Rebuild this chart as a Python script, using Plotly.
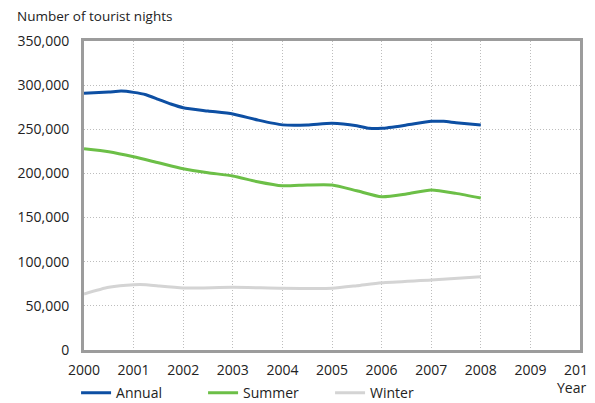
import plotly.graph_objects as go

# data (tourist nights, half-year sampling)
years_annual = [2000, 2000.5, 2000.75, 2001, 2001.25, 2001.5, 2001.75, 2002, 2002.5, 2003,
                2003.5, 2004, 2004.5, 2005, 2005.5, 2005.75, 2006, 2006.5, 2007, 2007.25,
                2007.5, 2008]
annual = [290700, 292200, 293300, 291800, 289100, 283900, 278600, 274400, 270700, 267300,
          260500, 255000, 254800, 256700, 254000, 251100, 251100, 254800, 259000, 259000,
          257400, 254800]

years_summer = [2000, 2000.5, 2001, 2001.5, 2002, 2002.5, 2003, 2003.5, 2004, 2004.5,
                2005, 2005.5, 2006, 2006.5, 2007, 2007.5, 2008]
summer = [228000, 224600, 218900, 212100, 205300, 200800, 197100, 190600, 186000, 186900,
          186900, 180400, 173600, 176700, 181200, 177400, 172100]

years_winter = [2000, 2000.5, 2001, 2001.25, 2001.5, 2002, 2003, 2004, 2005, 2005.5,
                2006, 2007, 2008]
winter = [63400, 71000, 74000, 74000, 72500, 70200, 71000, 69900, 69900, 72800,
          76200, 79300, 83000]

x_ticks = list(range(2000, 2011))
y_ticks = list(range(0, 350001, 50000))

FONT = "Open Sans, Liberation Sans, sans-serif"

fig = go.Figure()

series = [
    ("Annual", years_annual, annual, "#0d4fa3"),
    ("Summer", years_summer, summer, "#6cbf47"),
    ("Winter", years_winter, winter, "#d4d4d4"),
]
for name, xs, ys, color in series:
    fig.add_trace(go.Scatter(
        x=xs, y=ys, name=name, mode="lines",
        line=dict(color=color, width=3, shape="spline", smoothing=0.6),
    ))

# page body has an 8px margin, so the figure is 8px smaller than the window
fig.update_layout(
    width=587, height=395,
    margin=dict(l=76, r=15, t=33, b=53, autoexpand=False),
    paper_bgcolor="white", plot_bgcolor="white",
    font=dict(family=FONT, size=14, color="#222222"),
    showlegend=True,
    legend=dict(
        orientation="h", x=-0.016, y=-0.088, xanchor="left", yanchor="top",
        entrywidth=82, entrywidthmode="pixels",
        font=dict(size=14), itemwidth=30, tracegroupgap=0,
        bgcolor="rgba(0,0,0,0)",
    ),
)

fig.update_xaxes(
    range=[2000, 2010], tickvals=x_ticks, ticktext=[str(v) for v in x_ticks],
    showline=True, linecolor="#9c9c9c", linewidth=3, mirror=True,
    showgrid=True, gridcolor="#bdbdbd", griddash="1px,2px", gridwidth=1,
    ticks="", ticklabelstandoff=5, ticklabeloverflow="allow", zeroline=False,
)
fig.update_yaxes(
    range=[0, 350000], tickvals=y_ticks, ticktext=[f"{v:,}" for v in y_ticks],
    showline=True, linecolor="#9c9c9c", linewidth=3, mirror=True,
    showgrid=True, gridcolor="#bdbdbd", griddash="1px,2px", gridwidth=1,
    ticks="", ticklabelstandoff=9, zeroline=False,
)

fig.add_annotation(
    text="Number of tourist nights", xref="paper", yref="paper",
    x=-0.14, y=1.045, xanchor="left", yanchor="bottom",
    showarrow=False, font=dict(size=13.5),
)
fig.add_annotation(
    text="Year", xref="paper", yref="paper",
    x=1.016, y=0, yshift=-26, xanchor="right", yanchor="top",
    showarrow=False, font=dict(size=14),
)

fig.write_html("out.html")
